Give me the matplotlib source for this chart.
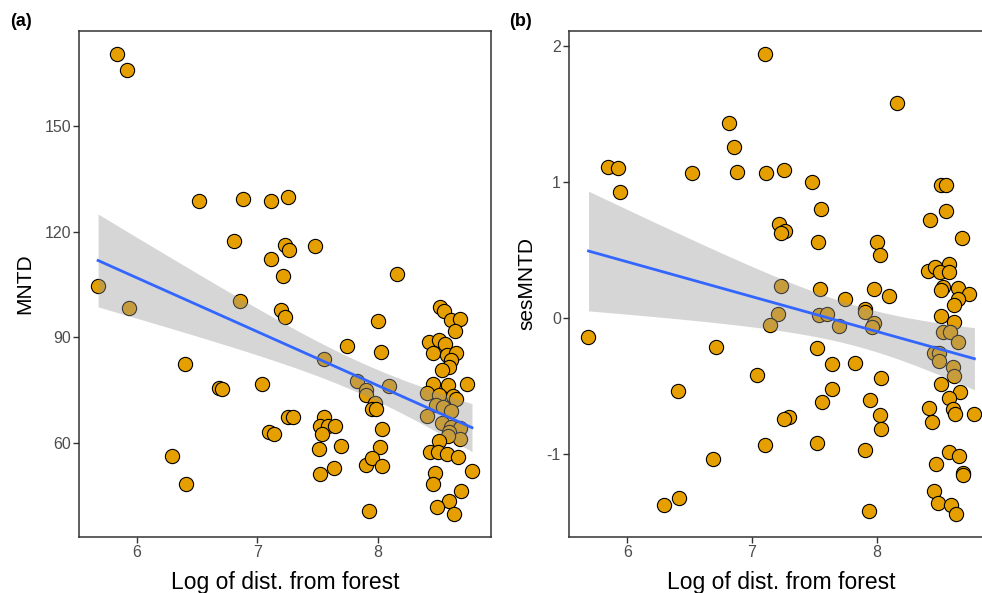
import numpy as np
import matplotlib
matplotlib.use("Agg")
import matplotlib.pyplot as plt

plt.rcParams['font.family'] = ['Liberation Sans', 'DejaVu Sans']

# ---- Panel (a): MNTD vs log distance ----
xa = [5.835, 5.92, 6.52, 6.88, 7.11, 7.257, 6.81, 7.23, 7.26, 7.478, 7.115, 7.215, 8.157,
      5.68, 5.94, 6.855, 7.20, 7.23, 7.997, 7.747, 8.027, 7.55, 6.40, 6.68, 6.71, 7.04,
      7.827, 7.90, 7.90, 8.09, 7.974, 7.95, 7.98, 7.253, 7.30, 7.10, 7.14, 7.556, 7.52,
      7.59, 7.64, 7.536, 8.03, 7.51, 7.694, 8.02, 7.90, 7.947, 8.03, 7.517, 7.633, 7.93,
      6.29, 6.41,
      8.515, 8.55, 8.61, 8.68, 8.64, 8.426, 8.51, 8.556, 8.46, 8.57, 8.65, 8.61, 8.59,
      8.53, 8.46, 8.58, 8.74, 8.41, 8.51, 8.625, 8.65, 8.48, 8.54, 8.61, 8.41, 8.53,
      8.61, 8.68, 8.59, 8.68, 8.58, 8.51, 8.43, 8.50, 8.575, 8.66, 8.47, 8.46, 8.78,
      8.69, 8.59, 8.49, 8.63]
ya = [170.5, 166.0, 128.8, 129.2, 128.7, 129.8, 117.4, 116.3, 114.8, 115.8, 112.2, 107.3, 107.9,
      104.7, 98.3, 100.3, 97.6, 95.7, 94.6, 87.6, 85.8, 83.8, 82.3, 75.6, 75.4, 76.8,
      77.6, 75.0, 73.6, 76.2, 71.4, 69.6, 69.6, 67.2, 67.2, 63.2, 62.5, 67.3, 64.8,
      64.8, 64.8, 62.5, 64.0, 58.2, 59.2, 58.7, 53.8, 55.8, 53.5, 51.2, 52.8, 40.7,
      56.3, 48.2,
      98.6, 97.4, 94.8, 95.3, 91.7, 88.7, 89.1, 88.2, 85.4, 84.9, 85.4, 83.5, 81.4,
      80.7, 76.6, 76.4, 76.7, 74.1, 73.6, 73.3, 72.4, 70.7, 70.3, 69.1, 67.6, 65.7,
      64.6, 64.1, 63.2, 61.0, 61.8, 60.4, 57.4, 57.5, 56.9, 56.1, 51.4, 48.3, 52.1,
      46.3, 43.4, 41.7, 39.9]

# ---- Panel (b): sesMNTD vs log distance ----
xb = [5.84, 5.925, 5.94, 5.687, 6.52, 6.817, 6.857, 6.88, 7.11, 7.105, 6.71, 6.405, 6.683,
      6.413, 6.297, 7.04, 7.10, 8.16, 7.26, 7.48, 7.55, 7.218, 7.264, 7.232, 7.53, 8.0,
      8.03, 7.232, 7.548, 7.75, 7.976, 8.096, 7.208, 7.146, 7.54, 7.598, 7.70, 7.906,
      7.91, 7.98, 7.96, 7.518, 7.644, 7.829, 8.032, 7.639, 7.561, 7.95, 7.30, 7.253,
      8.027, 8.035, 7.524, 7.907, 7.94,
      8.517, 8.557, 8.554, 8.43, 8.686, 8.584, 8.41, 8.47, 8.51, 8.58, 8.53, 8.517, 8.65,
      8.745, 8.65, 8.62, 8.517, 8.624, 8.53, 8.59, 8.65, 8.46, 8.50, 8.50, 8.61, 8.624,
      8.517, 8.672, 8.584, 8.418, 8.61, 8.63, 8.785, 8.445, 8.58, 8.66, 8.48, 8.69, 8.69,
      8.46, 8.49, 8.60, 8.64]
yb = [1.112, 1.105, 0.929, -0.137, 1.068, 1.434, 1.26, 1.075, 1.066, 1.94, -0.214, -0.532, -1.031,
      -1.317, -1.375, -0.419, -0.929, 1.58, 1.088, 1.0, 0.80, 0.693, 0.639, 0.624, 0.563, 0.561,
      0.461, 0.236, 0.214, 0.144, 0.217, 0.163, 0.034, -0.051, 0.027, 0.034, -0.059, 0.064,
      0.046, -0.034, -0.068, -0.222, -0.334, -0.327, -0.437, -0.519, -0.614, -0.60, -0.726, -0.741,
      -0.712, -0.817, -0.917, -0.966, -1.412,
      0.978, 0.978, 0.79, 0.724, 0.59, 0.40, 0.346, 0.375, 0.339, 0.339, 0.229, 0.205, 0.224,
      0.176, 0.144, 0.095, 0.015, -0.027, -0.10, -0.10, -0.173, -0.254, -0.258, -0.312, -0.36, -0.424,
      -0.485, -0.539, -0.583, -0.656, -0.668, -0.705, -0.702, -0.763, -0.98, -1.015, -1.073, -1.136, -1.148,
      -1.27, -1.36, -1.368, -1.434]

x_ticks = [6, 7, 8]
ya_ticks = [60, 90, 120, 150]
yb_ticks = [-1, 0, 1, 2]
yb_ticklabels = ["-1", "0", "1", "2"]
xlabel = "Log of dist. from forest"

W, H = 982, 593
fig = plt.figure(figsize=(W / 100, H / 100), dpi=100)

def px_axes(left, right, top, bottom):
    return fig.add_axes([left / W, (H - bottom) / H, (right - left) / W, (bottom - top) / H])

ax_a = px_axes(79.4, 490.7, 31, 536.5)
ax_b = px_axes(569.2, 993.7, 31, 536.5)

TCRIT = 1.985

def panel(ax, x, y, yticks, yticklabels, ylabel, tag, tag_px):
    x = np.asarray(x, float)
    y = np.asarray(y, float)
    ax.scatter(x, y, s=105, c='#E69F00', edgecolors='black', linewidths=0.8, zorder=2)
    # linear fit with 95% CI
    n = len(x)
    xm = x.mean()
    sxx = ((x - xm) ** 2).sum()
    b = ((x - xm) * (y - y.mean())).sum() / sxx
    a = y.mean() - b * xm
    resid = y - (a + b * x)
    s = np.sqrt((resid ** 2).sum() / (n - 2))
    gx = np.linspace(x.min(), x.max(), 80)
    gy = a + b * gx
    se = s * np.sqrt(1 / n + (gx - xm) ** 2 / sxx)
    ax.fill_between(gx, gy - TCRIT * se, gy + TCRIT * se, color='#999999', alpha=0.4,
                    linewidth=0, zorder=3)
    ax.plot(gx, gy, color='#3366FF', lw=2.0, zorder=4)
    xr = x.max() - x.min()
    yr = y.max() - y.min()
    ax.set_xlim(x.min() - 0.05 * xr, x.max() + 0.05 * xr)
    ax.set_ylim(y.min() - 0.05 * yr, y.max() + 0.05 * yr)
    ax.set_xticks(x_ticks)
    ax.set_xticklabels([str(t) for t in x_ticks])
    ax.set_yticks(yticks)
    ax.set_yticklabels(yticklabels)
    for sp in ax.spines.values():
        sp.set_color('#333333')
        sp.set_linewidth(1.1)
    ax.tick_params(axis='both', direction='out', length=4, width=1.0, color='#333333',
                   labelcolor='#4D4D4D', labelsize=11.5, pad=2)
    ax.set_ylabel(ylabel, fontsize=15, color='black', labelpad=7)
    # x-axis title (partly cut at the bottom edge, as in the reference)
    bb = ax.get_position()
    fig.text((bb.x0 + bb.x1) / 2 if tag == '(a)' else (569.2 + 993.7) / 2 / W,
             (H - 589) / H, xlabel, fontsize=16.5, color='black',
             ha='center', va='baseline')
    fig.text(tag_px[0] / W, (H - tag_px[1]) / H, tag, fontsize=13, fontweight='bold',
             ha='left', va='center')

panel(ax_a, xa, ya, ya_ticks, [str(t) for t in ya_ticks], "MNTD", "(a)", (10, 21))
panel(ax_b, xb, yb, yb_ticks, yb_ticklabels, "sesMNTD", "(b)", (509, 21))

fig.savefig("out.png", dpi=100)
